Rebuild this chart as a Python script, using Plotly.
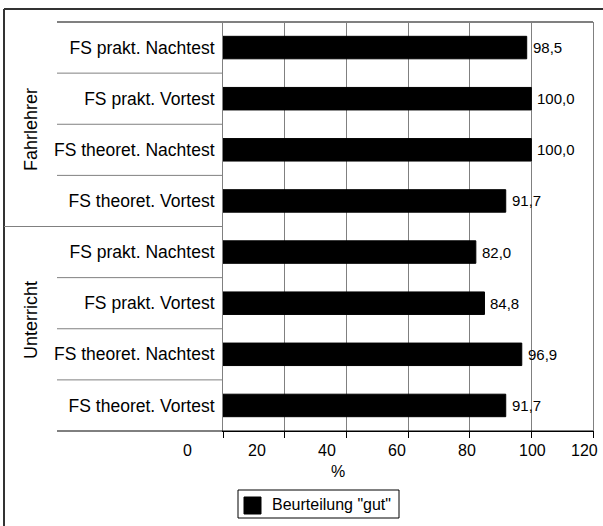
import plotly.graph_objects as go

# ---- data ----
categories = ["FS prakt. Nachtest", "FS prakt. Vortest", "FS theoret. Nachtest", "FS theoret. Vortest",
              "FS prakt. Nachtest", "FS prakt. Vortest", "FS theoret. Nachtest", "FS theoret. Vortest"]
groups = ["Fahrlehrer", "Unterricht"]
group_sizes = [4, 4]
values = [98.5, 100.0, 100.0, 91.7, 82.0, 84.8, 96.9, 91.7]
series_name = 'Beurteilung "gut"'
x_tick_values = [0, 20, 40, 60, 80, 100, 120]
x_tick_labels = ["0", "20", "40", "60", "80", "100", "120"]
x_title = "%"

# ---- layout geometry (pixels) ----
W, H = 603, 526
L, R, T, B = 223, 593, 22, 431
FONT = "Liberation Sans, Arial, sans-serif"
# where the (misaligned) tick labels sit, in pixels
tick_label_px = [187, 257, 327, 397, 467, 532, 584]


def px_x(px):
    return (px - L) / (R - L)


def px_y(py):
    return (B - py) / (B - T)


ypos = list(range(len(categories)))

fig = go.Figure()
fig.add_trace(go.Bar(
    x=values, y=ypos, orientation="h", width=0.44,
    marker=dict(color="black", line=dict(color="black", width=1)),
    name=series_name, showlegend=False, hoverinfo="x+y",
))

annotations = []
# value labels
for v, y in zip(values, ypos):
    annotations.append(dict(
        x=v, y=y, xref="x", yref="y", text=f"{v:.1f}".replace(".", ","),
        showarrow=False, xanchor="left", yanchor="middle", xshift=4,
        font=dict(family=FONT, size=15, color="black"),
    ))
# x tick labels (positioned as in the original)
for lab, px in zip(x_tick_labels, tick_label_px):
    annotations.append(dict(
        x=px_x(px), y=px_y(450), xref="paper", yref="paper", text=lab,
        showarrow=False, xanchor="center", yanchor="middle",
        font=dict(family=FONT, size=16, color="black"),
    ))
annotations.append(dict(
    x=px_x(338), y=px_y(471), xref="paper", yref="paper", text=x_title,
    showarrow=False, xanchor="center", yanchor="middle",
    font=dict(family=FONT, size=16, color="black"),
))
# group labels
group_centers_px = [130, 320]
for g, cy in zip(groups, group_centers_px):
    annotations.append(dict(
        x=px_x(31), y=px_y(cy), xref="paper", yref="paper", text=g,
        showarrow=False, textangle=-90, xanchor="center", yanchor="middle",
        font=dict(family=FONT, size=18, color="black"),
    ))
# legend text
annotations.append(dict(
    x=px_x(270), y=px_y(504), xref="paper", yref="paper", text=series_name,
    showarrow=False, xanchor="left", yanchor="middle",
    font=dict(family=FONT, size=16, color="black"),
))

shapes = []
gray = "#808080"
# outer frame (top and left visible)
shapes.append(dict(type="line", xref="paper", yref="paper", x0=px_x(4), x1=px_x(610),
                   y0=px_y(9), y1=px_y(9), line=dict(color="#333333", width=2)))
shapes.append(dict(type="line", xref="paper", yref="paper", x0=px_x(4), x1=px_x(4),
                   y0=px_y(9), y1=px_y(540), line=dict(color="#333333", width=2)))
# top border of plot / label table
shapes.append(dict(type="line", xref="paper", yref="paper", x0=px_x(57), x1=1,
                   y0=1, y1=1, line=dict(color=gray, width=2)))
# bottom line extension into label area
shapes.append(dict(type="line", xref="paper", yref="paper", x0=px_x(57), x1=1,
                   y0=0, y1=0, line=dict(color="black", width=1)))
# category separators in label area
cum = 0
group_bounds = set()
for s in group_sizes[:-1]:
    cum += s
    group_bounds.add(cum)
for i in range(1, len(categories)):
    x0 = px_x(4) if i in group_bounds else px_x(57)
    shapes.append(dict(type="line", xref="paper", yref="y", x0=x0, x1=0,
                       y0=i - 0.5, y1=i - 0.5, line=dict(color=gray, width=1)))
# legend box and key
shapes.append(dict(type="rect", xref="paper", yref="paper", x0=px_x(238), x1=px_x(399),
                   y0=px_y(490), y1=px_y(518), line=dict(color="black", width=1),
                   fillcolor="white", layer="below"))
shapes.append(dict(type="rect", xref="paper", yref="paper", x0=px_x(244), x1=px_x(261),
                   y0=px_y(497), y1=px_y(514), line=dict(color="black", width=1),
                   fillcolor="black"))

fig.update_layout(
    width=W, height=H,
    margin=dict(l=L, r=W - R, t=T, b=H - B, pad=0, autoexpand=False),
    plot_bgcolor="white", paper_bgcolor="white",
    font=dict(family=FONT, size=16, color="black"),
    bargap=0.56,
    showlegend=False,
    xaxis=dict(range=[0, 120], tickvals=x_tick_values, showticklabels=False,
               ticks="outside", ticklen=6, tickcolor="black", tickwidth=1,
               showgrid=True, gridcolor=gray, gridwidth=1,
               showline=True, linecolor="black", linewidth=1, zeroline=False),
    yaxis=dict(range=[len(categories) - 0.5, -0.5], tickvals=ypos, ticktext=categories,
               ticks="", showgrid=False, zeroline=False, showline=True,
               linecolor=gray, linewidth=1, mirror=True, ticklabelstandoff=4,
               tickfont=dict(family=FONT, size=17.5, color="black")),
    annotations=annotations, shapes=shapes,
)

fig.write_html("out.html")
